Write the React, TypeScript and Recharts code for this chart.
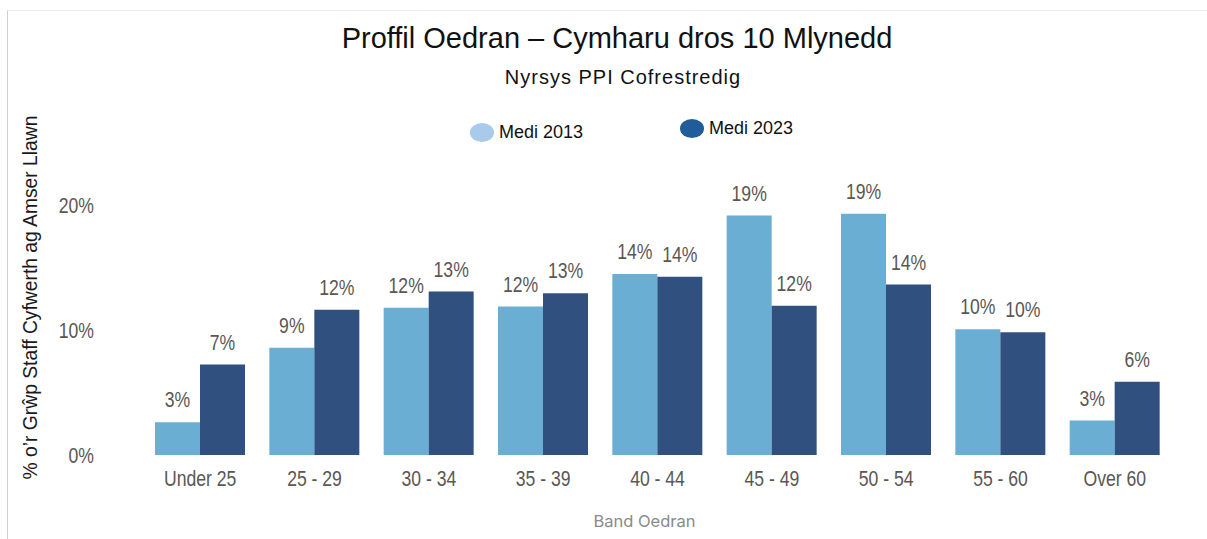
import { BarChart, Bar, XAxis, YAxis, LabelList, Label } from 'recharts';

const ageBands = ['Under 25', '25 - 29', '30 - 34', '35 - 39', '40 - 44', '45 - 49', '50 - 54', '55 - 60', 'Over 60'];
const medi2013 = [2.62, 8.58, 11.78, 11.88, 14.48, 19.16, 19.3, 10.06, 2.76];
const medi2023 = [7.24, 11.62, 13.08, 12.94, 14.26, 11.94, 13.64, 9.82, 5.86];
const yTicks = [0, 10, 20];

const series = [
  { key: 'medi2013', name: 'Medi 2013', bar: '#6aaed3', swatch: '#a9cbeb', left: 470, top: 123 },
  { key: 'medi2023', name: 'Medi 2023', bar: '#30507f', swatch: '#1f5c99', left: 680, top: 119 },
];

const data = ageBands.map((band, i) => ({ band, medi2013: medi2013[i], medi2023: medi2023[i] }));

const tickGrey = '#5a5754';
const sansFont = '"Liberation Sans", Arial, sans-serif';

// condensed text: no narrow font installed, so squeeze Liberation Sans horizontally
function NarrowText({ x, y, anchor, value, dy }: { x: number; y: number; anchor: string; value: string; dy: string }) {
  return (
    <text
      transform={`translate(${x},${y}) scale(0.8,1)`}
      textAnchor={anchor}
      dy={dy}
      fill={tickGrey}
      fontSize={22}
      fontFamily={sansFont}
    >
      {value}
    </text>
  );
}

const XTick = (props: any) => (
  <NarrowText x={props.x} y={props.y} anchor="middle" dy="0.71em" value={props.payload.value} />
);

const YTick = (props: any) => (
  <NarrowText x={props.x} y={props.y} anchor="end" dy="0.355em" value={`${props.payload.value}%`} />
);

const BarValue = (props: any) => (
  <NarrowText
    x={props.x + props.width / 2}
    y={props.y - 15}
    anchor="middle"
    dy="0"
    value={`${Math.round(Number(props.value))}%`}
  />
);

export default function App() {
  return (
    <div style={{ position: 'absolute', left: 0, top: 0, width: 1207, height: 539, background: '#fff', fontFamily: sansFont }}>
      <div style={{ position: 'absolute', left: 7, top: 10, right: 0, bottom: 0, borderTop: '1px solid #ededed', borderLeft: '1px solid #cfcfcf' }} />
      <div style={{ position: 'absolute', left: 0, width: 1234, top: 22, textAlign: 'center', fontSize: 29, color: '#111' }}>
        Proffil Oedran – Cymharu dros 10 Mlynedd
      </div>
      <div style={{ position: 'absolute', left: 0, width: 1246, top: 66, textAlign: 'center', fontSize: 20, letterSpacing: 1, color: '#111' }}>
        Nyrsys PPI Cofrestredig
      </div>
      {series.map((s) => (
        <div key={s.key} style={{ position: 'absolute', left: s.left, top: s.top, display: 'flex', alignItems: 'center', height: 19 }}>
          <span style={{ display: 'inline-block', width: 24, height: 19, borderRadius: '50%', background: s.swatch, marginRight: 5 }} />
          <span style={{ fontSize: 18, color: '#111', lineHeight: '19px' }}>{s.name}</span>
        </div>
      ))}
      <div style={{ position: 'absolute', left: 0, top: 0 }}>
        <BarChart
          width={1207}
          height={539}
          data={data}
          margin={{ top: 180, right: 35, left: 8, bottom: 54 }}
          barCategoryGap={12}
          barGap={0}
        >
          <XAxis
            dataKey="band"
            height={30}
            axisLine={false}
            tickLine={false}
            tickSize={0}
            tickMargin={15}
            interval={0}
            tick={<XTick />}
          >
            <Label
              content={({ viewBox }: any) => (
                <text
                  x={viewBox.x + viewBox.width / 2 - 13}
                  y={viewBox.y + 72}
                  textAnchor="middle"
                  fill="#8a8a8a"
                  fontSize={16.5}
                  fontFamily="Inter, sans-serif"
                >
                  Band Oedran
                </text>
              )}
            />
          </XAxis>
          <YAxis
            width={135}
            domain={[0, 22]}
            ticks={yTicks}
            axisLine={false}
            tickLine={false}
            tickSize={0}
            tickMargin={49}
            tick={<YTick />}
          >
            <Label
              content={({ viewBox }: any) => {
                const x = viewBox.x + 22;
                const y = viewBox.y + viewBox.height / 2 - 20;
                return (
                  <text x={x} y={y} transform={`rotate(-90 ${x} ${y})`} dy="0.35em" textAnchor="middle" fill="#1a1a1a" fontSize={19.3} fontFamily={sansFont}>
                    % o’r Grŵp Staff Cyfwerth ag Amser Llawn
                  </text>
                );
              }}
            />
          </YAxis>
          {series.map((s) => (
            <Bar key={s.key} dataKey={s.key} name={s.name} fill={s.bar} isAnimationActive={false}>
              <LabelList dataKey={s.key} content={<BarValue />} />
            </Bar>
          ))}
        </BarChart>
      </div>
    </div>
  );
}
